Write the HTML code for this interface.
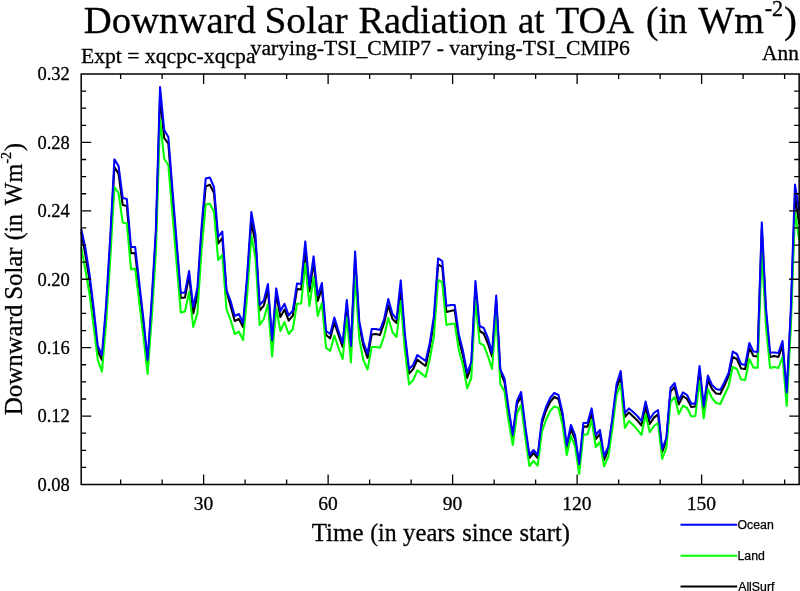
<!DOCTYPE html>
<html><head><meta charset="utf-8"><title>Downward Solar Radiation at TOA</title>
<style>
html,body{margin:0;padding:0;background:#fff;}
body{width:800px;height:591px;overflow:hidden;font-family:"Liberation Serif",serif;}
svg{display:block;will-change:transform;font-family:"Liberation Serif",serif;fill:#000;}
text{stroke:#000;stroke-width:0.3px;stroke-linejoin:round;}
.sans text{stroke-width:0.25px;}
.sans{font-family:"Liberation Sans",sans-serif;}
</style></head><body>
<svg width="800" height="591" viewBox="0 0 800 591">
<rect width="800" height="591" fill="#fff"/>
<g font-size="38.7">
<text x="83.7" y="33.4" textLength="172.21" lengthAdjust="spacingAndGlyphs">Downward</text>
<text x="264.45" y="33.4" textLength="83.22" lengthAdjust="spacingAndGlyphs">Solar</text>
<text x="358.51" y="33.4" textLength="148.67" lengthAdjust="spacingAndGlyphs">Radiation</text>
<text x="518.07" y="33.4" textLength="26.36" lengthAdjust="spacingAndGlyphs">at</text>
<text x="555.75" y="33.4" textLength="78.06" lengthAdjust="spacingAndGlyphs">TOA</text>
<text x="646.05" y="33.4" textLength="41.41" lengthAdjust="spacingAndGlyphs">(in</text>
<text x="698.25" y="33.4" textLength="65.86" lengthAdjust="spacingAndGlyphs">Wm</text>
<text x="764.7" y="15.5" font-size="22.2">-2</text>
<text x="784" y="33.3">)</text>
</g>
<g font-size="21.3">
<text x="81" y="62.5" textLength="174.5" lengthAdjust="spacingAndGlyphs">Expt = xqcpc-xqcpa</text>
<text x="250.6" y="54.5" textLength="379.3" lengthAdjust="spacingAndGlyphs">varying-TSI_CMIP7 - varying-TSI_CMIP6</text>
<text x="798.8" y="59.6" text-anchor="end">Ann</text>
</g>
<g fill="none" stroke-width="2.05" stroke-linejoin="round" stroke-linecap="butt">
<path stroke="#000" d="M81.20,232.00 L85.35,254.53 L89.50,280.07 L93.65,313.48 L97.80,351.00 L101.95,360.00 L106.10,310.53 L110.25,243.72 L114.40,167.00 L118.55,173.60 L122.70,205.00 L126.85,206.00 L131.00,253.30 L135.15,253.00 L139.30,288.92 L143.45,324.29 L147.60,363.00 L151.75,304.64 L155.90,235.86 L160.05,96.45 L164.20,138.00 L168.35,143.60 L172.50,197.55 L176.65,248.64 L180.80,298.00 L184.95,297.60 L189.10,276.00 L193.25,313.60 L197.40,295.00 L201.55,233.90 L205.70,186.40 L209.85,184.80 L214.00,193.00 L218.15,243.60 L222.30,238.00 L226.45,291.00 L230.60,306.00 L234.75,321.00 L238.90,319.00 L243.05,327.00 L247.20,281.06 L251.35,222.00 L255.50,243.00 L259.65,310.50 L263.80,305.60 L267.95,290.00 L272.10,342.00 L276.25,294.00 L280.40,317.00 L284.55,309.60 L288.70,320.60 L292.85,315.60 L297.00,289.00 L301.15,289.60 L305.30,252.00 L309.45,291.50 L313.60,262.00 L317.75,301.00 L321.90,288.40 L326.05,335.00 L330.20,338.40 L334.35,322.40 L338.50,335.00 L342.65,347.00 L346.80,305.00 L350.95,348.00 L355.10,258.07 L359.25,325.00 L363.40,346.00 L367.55,358.00 L371.70,334.40 L375.85,334.00 L380.00,335.00 L384.15,323.00 L388.30,305.50 L392.45,319.00 L396.60,323.00 L400.75,290.00 L404.90,339.03 L409.05,373.60 L413.20,369.00 L417.35,359.60 L421.50,363.00 L425.65,366.00 L429.80,347.00 L433.95,321.34 L438.10,264.40 L442.25,267.00 L446.40,312.00 L450.55,311.00 L454.70,310.00 L458.85,339.52 L463.00,355.73 L467.15,378.00 L471.30,367.00 L475.45,286.95 L479.60,331.00 L483.75,333.50 L487.90,343.50 L492.05,356.50 L496.20,301.30 L500.35,372.00 L504.50,382.00 L508.65,412.71 L512.80,437.00 L516.95,404.00 L521.10,396.50 L525.25,429.42 L529.40,458.00 L533.55,453.00 L537.70,458.00 L541.85,423.52 L546.00,410.75 L550.15,402.00 L554.30,397.00 L558.45,399.00 L562.60,416.64 L566.75,448.00 L570.90,429.00 L575.05,439.00 L579.20,467.00 L583.35,426.60 L587.50,426.60 L591.65,413.00 L595.80,439.00 L599.95,434.00 L604.10,460.00 L608.25,450.00 L612.40,421.56 L616.55,388.15 L620.70,377.00 L624.85,417.00 L629.00,412.40 L633.15,416.40 L637.30,420.40 L641.45,425.50 L645.60,407.00 L649.75,424.00 L653.90,417.60 L658.05,414.40 L662.20,452.00 L666.35,441.21 L670.50,391.60 L674.65,387.00 L678.80,404.40 L682.95,396.00 L687.10,399.00 L691.25,407.00 L695.40,406.60 L699.55,370.47 L703.70,409.77 L707.85,380.00 L712.00,389.00 L716.15,393.60 L720.30,394.00 L724.45,385.60 L728.60,376.00 L732.75,357.00 L736.90,359.00 L741.05,368.40 L745.20,369.00 L749.35,348.00 L753.50,356.00 L757.65,356.40 L761.80,229.38 L765.95,313.48 L770.10,357.00 L774.25,356.00 L778.40,357.00 L782.55,346.00 L786.70,396.40 L790.85,314.46 L795.00,196.00 L799.15,224.00"/>
<path stroke="#00ff00" d="M81.20,247.00 L85.35,269.62 L89.50,294.11 L93.65,326.14 L97.80,360.00 L101.95,371.60 L106.10,323.31 L110.25,259.25 L114.40,187.00 L118.55,193.00 L122.70,222.60 L126.85,223.40 L131.00,269.40 L135.15,268.60 L139.30,302.59 L143.45,336.50 L147.60,374.00 L151.75,317.66 L155.90,251.72 L160.05,119.00 L164.20,159.00 L168.35,165.00 L172.50,214.98 L176.65,263.96 L180.80,312.40 L184.95,311.60 L189.10,292.00 L193.25,327.00 L197.40,313.00 L201.55,249.83 L205.70,204.60 L209.85,203.80 L214.00,212.00 L218.15,260.00 L222.30,255.00 L226.45,309.00 L230.60,320.00 L234.75,334.00 L238.90,331.60 L243.05,340.00 L247.20,295.05 L251.35,235.60 L255.50,258.00 L259.65,325.00 L263.80,319.00 L267.95,304.00 L272.10,356.40 L276.25,308.00 L280.40,331.00 L284.55,322.00 L288.70,334.00 L292.85,329.00 L297.00,303.80 L301.15,303.50 L305.30,263.60 L309.45,306.00 L313.60,277.00 L317.75,316.00 L321.90,303.00 L326.05,348.00 L330.20,351.00 L334.35,335.60 L338.50,348.00 L342.65,359.00 L346.80,317.00 L350.95,362.40 L355.10,275.00 L359.25,339.00 L363.40,360.00 L367.55,369.60 L371.70,347.00 L375.85,347.00 L380.00,347.80 L384.15,336.00 L388.30,318.00 L392.45,332.00 L396.60,337.00 L400.75,301.00 L404.90,350.63 L409.05,384.40 L413.20,380.00 L417.35,370.40 L421.50,373.60 L425.65,377.00 L429.80,359.00 L433.95,336.00 L438.10,280.00 L442.25,282.40 L446.40,325.00 L450.55,324.00 L454.70,323.60 L458.85,350.00 L463.00,365.00 L467.15,388.40 L471.30,378.00 L475.45,300.00 L479.60,343.00 L483.75,345.30 L487.90,356.00 L492.05,369.00 L496.20,315.00 L500.35,384.00 L504.50,391.50 L508.65,421.28 L512.80,445.00 L516.95,413.50 L521.10,405.00 L525.25,437.29 L529.40,466.00 L533.55,461.00 L537.70,465.60 L541.85,432.00 L546.00,420.00 L550.15,411.00 L554.30,406.40 L558.45,408.00 L562.60,425.00 L566.75,455.00 L570.90,436.00 L575.05,446.00 L579.20,474.00 L583.35,434.40 L587.50,434.40 L591.65,420.00 L595.80,447.00 L599.95,442.00 L604.10,466.40 L608.25,457.00 L612.40,428.00 L616.55,395.00 L620.70,384.00 L624.85,428.00 L629.00,421.00 L633.15,425.00 L637.30,429.60 L641.45,435.00 L645.60,414.50 L649.75,432.20 L653.90,426.00 L658.05,423.00 L662.20,458.80 L666.35,448.00 L670.50,402.00 L674.65,397.00 L678.80,414.00 L682.95,405.60 L687.10,408.00 L691.25,416.40 L695.40,416.00 L699.55,381.00 L703.70,418.40 L707.85,389.00 L712.00,398.00 L716.15,403.00 L720.30,404.00 L724.45,395.00 L728.60,386.00 L732.75,367.00 L736.90,369.00 L741.05,379.60 L745.20,380.00 L749.35,359.00 L753.50,367.60 L757.65,367.60 L761.80,250.00 L765.95,326.14 L770.10,368.00 L774.25,367.00 L778.40,368.00 L782.55,357.00 L786.70,406.00 L790.85,327.08 L795.00,212.00 L799.15,240.00"/>
<path stroke="#0000ff" d="M81.20,229.00 L85.35,248.00 L89.50,274.00 L93.65,308.00 L97.80,346.00 L101.95,355.00 L106.10,305.00 L110.25,237.00 L114.40,159.40 L118.55,166.00 L122.70,198.00 L126.85,199.00 L131.00,247.00 L135.15,247.00 L139.30,283.00 L143.45,319.00 L147.60,360.00 L151.75,299.00 L155.90,229.00 L160.05,87.10 L164.20,130.00 L168.35,137.00 L172.50,190.00 L176.65,242.00 L180.80,293.00 L184.95,292.40 L189.10,271.00 L193.25,307.00 L197.40,288.00 L201.55,227.00 L205.70,178.50 L209.85,177.50 L214.00,187.00 L218.15,237.00 L222.30,231.60 L226.45,290.00 L230.60,301.00 L234.75,316.00 L238.90,314.00 L243.05,323.00 L247.20,275.00 L251.35,212.00 L255.50,235.00 L259.65,305.00 L263.80,300.50 L267.95,284.00 L272.10,340.00 L276.25,288.40 L280.40,311.00 L284.55,303.80 L288.70,315.50 L292.85,310.50 L297.00,283.60 L301.15,284.00 L305.30,241.40 L309.45,286.00 L313.60,256.40 L317.75,295.50 L321.90,283.00 L326.05,331.00 L330.20,334.00 L334.35,317.50 L338.50,331.00 L342.65,343.00 L346.80,300.00 L350.95,346.00 L355.10,251.60 L359.25,321.00 L363.40,342.00 L367.55,353.70 L371.70,329.00 L375.85,329.00 L380.00,330.00 L384.15,319.00 L388.30,299.00 L392.45,314.00 L396.60,319.00 L400.75,280.40 L404.90,334.00 L409.05,369.00 L413.20,365.00 L417.35,355.00 L421.50,358.00 L425.65,361.00 L429.80,343.00 L433.95,316.00 L438.10,258.40 L442.25,261.00 L446.40,306.00 L450.55,305.00 L454.70,305.00 L458.85,334.50 L463.00,351.00 L467.15,373.00 L471.30,362.00 L475.45,281.00 L479.60,326.00 L483.75,328.00 L487.90,338.00 L492.05,353.00 L496.20,295.60 L500.35,369.50 L504.50,378.50 L508.65,409.00 L512.80,434.50 L516.95,401.00 L521.10,392.00 L525.25,426.00 L529.40,455.00 L533.55,450.00 L537.70,455.00 L541.85,420.00 L546.00,407.00 L550.15,398.00 L554.30,393.00 L558.45,395.00 L562.60,413.00 L566.75,445.00 L570.90,425.00 L575.05,435.00 L579.20,464.00 L583.35,423.00 L587.50,423.00 L591.65,408.40 L595.80,435.00 L599.95,430.00 L604.10,456.00 L608.25,447.00 L612.40,418.00 L616.55,384.00 L620.70,371.00 L624.85,413.00 L629.00,408.40 L633.15,412.00 L637.30,416.00 L641.45,421.00 L645.60,401.60 L649.75,419.00 L653.90,413.00 L658.05,410.00 L662.20,449.00 L666.35,438.00 L670.50,388.00 L674.65,383.00 L678.80,400.00 L682.95,392.40 L687.10,395.00 L691.25,403.60 L695.40,403.60 L699.55,366.00 L703.70,406.00 L707.85,375.60 L712.00,385.00 L716.15,389.00 L720.30,390.00 L724.45,382.00 L728.60,373.00 L732.75,351.60 L736.90,354.00 L741.05,364.00 L745.20,365.00 L749.35,343.00 L753.50,351.60 L757.65,352.00 L761.80,222.40 L765.95,308.00 L770.10,352.40 L774.25,352.40 L778.40,353.00 L782.55,341.00 L786.70,392.40 L790.85,309.00 L795.00,184.60 L799.15,210.00"/>
</g>
<rect x="81.2" y="74.0" width="717.9499999999999" height="410.5" fill="none" stroke="#000" stroke-width="1.5"/>
<path d="M81.20,467.40h5M799.15,467.40h-5M81.20,450.29h5M799.15,450.29h-5M81.20,433.19h5M799.15,433.19h-5M81.20,416.08h10M799.15,416.08h-10M81.20,398.98h5M799.15,398.98h-5M81.20,381.88h5M799.15,381.88h-5M81.20,364.77h5M799.15,364.77h-5M81.20,347.67h10M799.15,347.67h-10M81.20,330.56h5M799.15,330.56h-5M81.20,313.46h5M799.15,313.46h-5M81.20,296.35h5M799.15,296.35h-5M81.20,279.25h10M799.15,279.25h-10M81.20,262.15h5M799.15,262.15h-5M81.20,245.04h5M799.15,245.04h-5M81.20,227.94h5M799.15,227.94h-5M81.20,210.83h10M799.15,210.83h-10M81.20,193.73h5M799.15,193.73h-5M81.20,176.62h5M799.15,176.62h-5M81.20,159.52h5M799.15,159.52h-5M81.20,142.42h10M799.15,142.42h-10M81.20,125.31h5M799.15,125.31h-5M81.20,108.21h5M799.15,108.21h-5M81.20,91.10h5M799.15,91.10h-5M120.62,484.50v-5M120.62,74.00v5M162.12,484.50v-5M162.12,74.00v5M203.62,484.50v-10M203.62,74.00v10M245.12,484.50v-5M245.12,74.00v5M286.62,484.50v-5M286.62,74.00v5M328.12,484.50v-10M328.12,74.00v10M369.62,484.50v-5M369.62,74.00v5M411.12,484.50v-5M411.12,74.00v5M452.62,484.50v-10M452.62,74.00v10M494.12,484.50v-5M494.12,74.00v5M535.62,484.50v-5M535.62,74.00v5M577.12,484.50v-10M577.12,74.00v10M618.62,484.50v-5M618.62,74.00v5M660.12,484.50v-5M660.12,74.00v5M701.62,484.50v-10M701.62,74.00v10M743.12,484.50v-5M743.12,74.00v5M784.62,484.50v-5M784.62,74.00v5" fill="none" stroke="#000" stroke-width="1.3"/>
<g font-size="19.8"><text x="37.4" y="490.80" textLength="32.4" lengthAdjust="spacingAndGlyphs">0.08</text><text x="37.4" y="422.38" textLength="32.4" lengthAdjust="spacingAndGlyphs">0.12</text><text x="37.4" y="353.97" textLength="32.4" lengthAdjust="spacingAndGlyphs">0.16</text><text x="37.4" y="285.55" textLength="32.4" lengthAdjust="spacingAndGlyphs">0.20</text><text x="37.4" y="217.13" textLength="32.4" lengthAdjust="spacingAndGlyphs">0.24</text><text x="37.4" y="148.72" textLength="32.4" lengthAdjust="spacingAndGlyphs">0.28</text><text x="37.4" y="80.30" textLength="32.4" lengthAdjust="spacingAndGlyphs">0.32</text><text x="203.43" y="509.5" text-anchor="middle" font-size="19.5">30</text><text x="327.92" y="509.5" text-anchor="middle" font-size="19.5">60</text><text x="452.42" y="509.5" text-anchor="middle" font-size="19.5">90</text><text x="576.92" y="509.5" text-anchor="middle" font-size="19.5">120</text><text x="701.42" y="509.5" text-anchor="middle" font-size="19.5">150</text></g>
<text x="311.75" y="540.6" font-size="25.2" textLength="51.77" lengthAdjust="spacingAndGlyphs">Time</text>
<text x="370.21" y="540.6" font-size="25.2" textLength="26.36" lengthAdjust="spacingAndGlyphs">(in</text>
<text x="403.11" y="540.6" font-size="25.2" textLength="52.03" lengthAdjust="spacingAndGlyphs">years</text>
<text x="462.27" y="540.6" font-size="25.2" textLength="50.48" lengthAdjust="spacingAndGlyphs">since</text>
<text x="519.47" y="540.6" font-size="25.2" textLength="50.42" lengthAdjust="spacingAndGlyphs">start)</text>
<g transform="translate(21.8,415.2) rotate(-90)" font-size="24.8">
<text x="-0.1" y="0" textLength="110.69" lengthAdjust="spacingAndGlyphs">Downward</text>
<text x="115.4" y="0" textLength="52.4" lengthAdjust="spacingAndGlyphs">Solar</text>
<text x="174.84" y="0" textLength="26.34" lengthAdjust="spacingAndGlyphs">(in</text>
<text x="209.94" y="0" textLength="41.45" lengthAdjust="spacingAndGlyphs">Wm</text>
<text x="251.6" y="-11.2" font-size="14">-2</text>
<text x="264" y="0">)</text>
</g>
<g fill="none" stroke-width="2.0">
<path stroke="#0000ff" d="M680.5,524.8H737.2"/>
<path stroke="#00ff00" d="M680.5,555.8H737.2"/>
<path stroke="#000" d="M680.5,586.5H737.2"/>
</g>
<g class="sans" font-size="12.3">
<text x="737.5" y="529.2">Ocean</text>
<text x="737.5" y="559.8">Land</text>
<text x="738.2" y="590.7">AllSurf</text>
</g>
</svg>
</body></html>
